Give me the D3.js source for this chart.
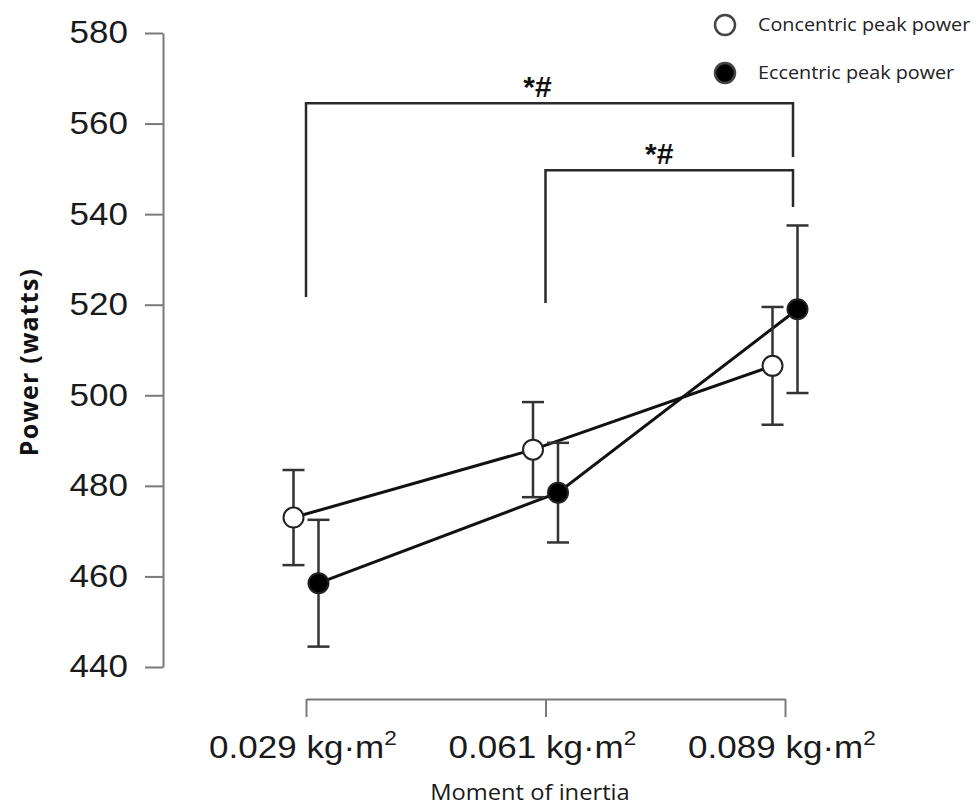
<!DOCTYPE html>
<html>
<head>
<meta charset="utf-8">
<script src="https://cdn.jsdelivr.net/npm/d3@7"></script>
<style>
  body { margin: 0; background: #fff; }
  svg { display: block; }
</style>
</head>
<body>
<div id="chart"></div>
<script>
// --- Data ---
const categories = ['0.029', '0.061', '0.089'];
const concentricMean = [473, 488, 506.5];
const concentricErr = [10.5, 10.5, 13];
const eccentricMean = [458.5, 478.5, 519];
const eccentricErr = [14, 11, 18.5];
const yTicks = [440, 460, 480, 500, 520, 540, 560, 580];
// significance brackets: level of the bar and where each leg stops (in watts)
const brackets = [
  { from: '0.029', to: '0.089', level: 564.5, leftEnd: 521.7, rightEnd: 552.6, label: '*#' },
  { from: '0.061', to: '0.089', level: 549.7, leftEnd: 520.4, rightEnd: 541.6, label: '*#' }
];

const width = 979, height = 806;
const stretch = 1.13; // the original figure is a bit wide in its text

const svg = d3.select('#chart').append('svg')
  .attr('width', width)
  .attr('height', height);

// --- Scales ---
const x = d3.scalePoint().domain(categories).range([306, 785]);
const y = d3.scaleLinear().domain([440, 580]).range([667, 33]);
const offset = 12.5;

// --- Axes ---
const yAxis = svg.append('g')
  .attr('transform', 'translate(163,0)')
  .call(d3.axisLeft(y).tickValues(yTicks).tickSize(18).tickSizeOuter(0));
yAxis.select('.domain').attr('stroke', '#7a7a7a').attr('stroke-width', 2);
yAxis.selectAll('line').attr('stroke', '#7a7a7a').attr('stroke-width', 2);
yAxis.selectAll('text')
  .attr('x', null)
  .attr('transform', `translate(-35,0) scale(${stretch},1)`)
  .attr('fill', '#1a1a1a')
  .style('font-family', '"Liberation Sans", Arial, sans-serif')
  .style('font-size', '31px');

const xAxis = svg.append('g')
  .attr('transform', 'translate(0,699)')
  .call(d3.axisBottom(x).tickSize(18).tickSizeOuter(0).tickFormat(''));
xAxis.select('.domain').attr('stroke', '#7a7a7a').attr('stroke-width', 2);
xAxis.selectAll('line').attr('stroke', '#7a7a7a').attr('stroke-width', 2);

// x tick labels with superscript
const xl = svg.append('g')
  .selectAll('text')
  .data(categories)
  .enter().append('text')
  .attr('transform', d => `translate(${x(d) - 3},758) scale(${stretch},1)`)
  .attr('text-anchor', 'middle')
  .attr('fill', '#1a1a1a')
  .style('font-family', '"Liberation Sans", Arial, sans-serif')
  .style('font-size', '31px');
xl.append('tspan').text(d => d + ' kg\u00b7m');
xl.append('tspan').attr('dy', -13).style('font-size', '20px').text('2');

// axis titles
svg.append('text')
  .attr('transform', 'translate(38,362) rotate(-90)')
  .attr('text-anchor', 'middle')
  .attr('fill', '#111')
  .style('font-family', '"Open Sans", sans-serif')
  .style('font-weight', 'bold')
  .style('font-size', '25px')
  .style('letter-spacing', '1.2px')
  .text('Power (watts)');

svg.append('text')
  .attr('transform', `translate(530,800) scale(${stretch},1)`)
  .attr('text-anchor', 'middle')
  .attr('fill', '#1a1a1a')
  .style('font-family', '"Open Sans", sans-serif')
  .style('font-size', '21px')
  .text('Moment of inertia');

// --- Significance brackets ---
const bg = svg.append('g');
brackets.forEach(b => {
  const x1 = x(b.from), x2 = x(b.to) + 8;
  bg.append('path')
    .attr('d', `M${x1},${y(b.leftEnd)}V${y(b.level)}H${x2}V${y(b.rightEnd)}`)
    .attr('fill', 'none')
    .attr('stroke', '#2a2a2a')
    .attr('stroke-width', 2.5);
});
bg.selectAll('text')
  .data(brackets)
  .enter().append('text')
  .attr('x', (d, i) => (x(d.from) + x(d.to)) / 2 + (i === 0 ? -8 : -6))
  .attr('y', d => y(d.level) - 6)
  .attr('text-anchor', 'middle')
  .attr('fill', '#111')
  .style('font-family', '"Liberation Sans", Arial, sans-serif')
  .style('font-weight', 'bold')
  .style('font-size', '30px')
  .text(d => d.label);

// --- Series ---
const series = [
  { name: 'Concentric peak power', mean: concentricMean, err: concentricErr, dx: -offset, fill: '#fff' },
  { name: 'Eccentric peak power', mean: eccentricMean, err: eccentricErr, dx: offset, fill: '#000' }
];

const line = d3.line()
  .x(d => d.x)
  .y(d => d.y);

// lines first
series.forEach(s => {
  const pts = categories.map((c, i) => ({ x: x(c) + s.dx, y: y(s.mean[i]) }));
  svg.append('path')
    .datum(pts)
    .attr('fill', 'none')
    .attr('stroke', '#111')
    .attr('stroke-width', 3)
    .attr('d', line);
});

// error bars
series.forEach(s => {
  const g = svg.append('g');
  categories.forEach((c, i) => {
    const cx = x(c) + s.dx;
    const lo = y(s.mean[i] - s.err[i]), hi = y(s.mean[i] + s.err[i]);
    g.append('line').attr('x1', cx).attr('x2', cx).attr('y1', lo).attr('y2', hi);
    g.append('line').attr('x1', cx - 11).attr('x2', cx + 11).attr('y1', lo).attr('y2', lo);
    g.append('line').attr('x1', cx - 11).attr('x2', cx + 11).attr('y1', hi).attr('y2', hi);
  });
  g.selectAll('line').attr('stroke', '#333').attr('stroke-width', 2.5);
});

// points
series.forEach(s => {
  svg.append('g')
    .selectAll('circle')
    .data(categories)
    .enter().append('circle')
    .attr('cx', d => x(d) + s.dx)
    .attr('cy', (d, i) => y(s.mean[i]))
    .attr('r', 10)
    .attr('fill', s.fill)
    .attr('stroke', '#222')
    .attr('stroke-width', 2);
});

// --- Legend ---
const legend = svg.append('g');
series.forEach((s, i) => {
  const ly = 25 + i * 48;
  legend.append('circle')
    .attr('cx', 725)
    .attr('cy', ly)
    .attr('r', 10)
    .attr('fill', s.fill)
    .attr('stroke', '#444')
    .attr('stroke-width', 2.5);
  legend.append('text')
    .attr('transform', `translate(758,${ly + 6}) scale(1.1,1)`)
    .attr('fill', '#222')
    .style('font-family', '"Open Sans", sans-serif')
    .style('font-size', '18px')
    .text(s.name);
});
</script>
</body>
</html>
